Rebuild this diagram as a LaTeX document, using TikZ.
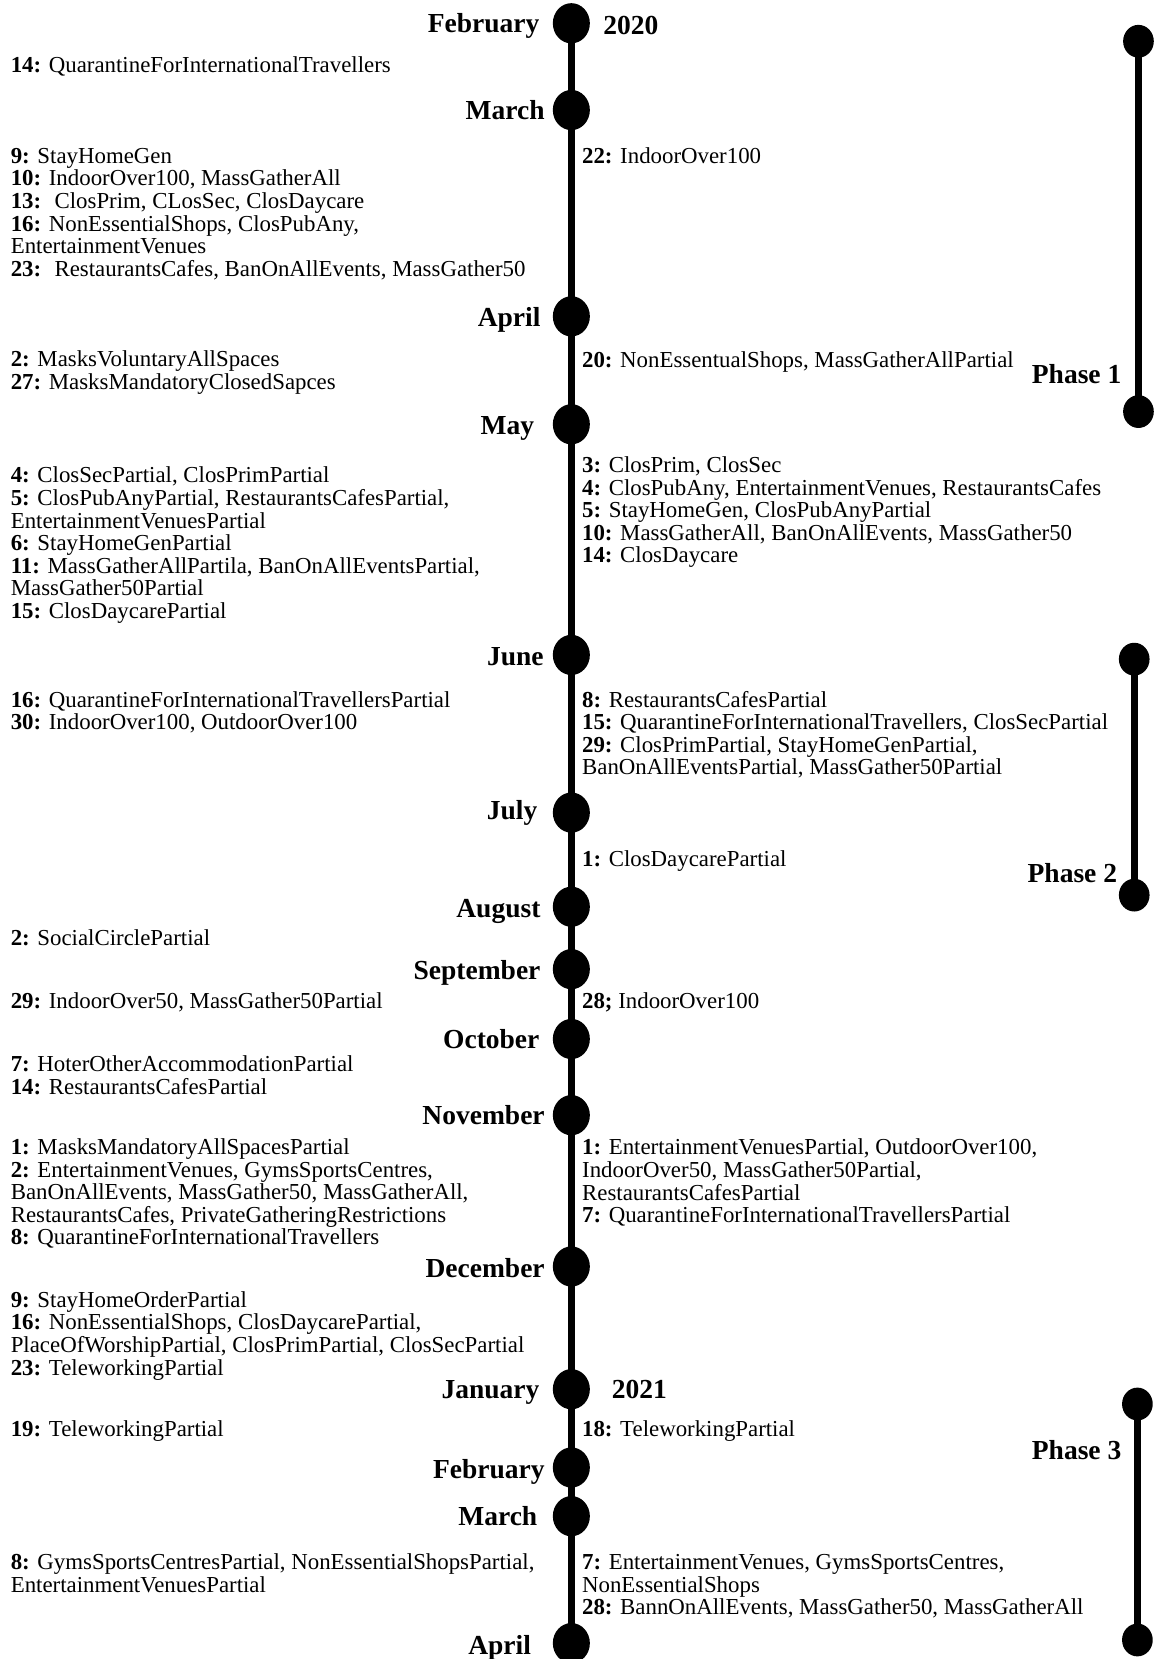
\documentclass[tikz,border=0pt]{standalone}
\usepackage{fontspec}
\setmainfont{Liberation Serif}
\usetikzlibrary{shapes.geometric}

\newcommand\dn[1]{\textbf{#1:}}
\newcommand\blk[1]{\begin{tabular}[t]{@{}l@{}}#1\end{tabular}}

\tikzset{
  monthdot/.style={ellipse, fill=black, inner sep=0pt, minimum width=35pt, minimum height=38pt},
  phasedot/.style={ellipse, fill=black, inner sep=0pt, minimum width=29pt, minimum height=31pt},
  spine/.style={line width=7pt},
  monthlbl/.style={anchor=base east, inner sep=0pt, font=\fontsize{26}{28}\selectfont\bfseries},
  yearlbl/.style={anchor=base west, inner sep=0pt, font=\fontsize{26}{28}\selectfont\bfseries},
  phaselbl/.style={anchor=base east, inner sep=0pt, font=\fontsize{26}{28}\selectfont\bfseries},
  lefttxt/.style={anchor=base west, inner sep=0pt, font=\fontsize{21.6}{21}\selectfont},
  righttxt/.style={anchor=base west, inner sep=0pt, font=\fontsize{21.6}{21}\selectfont},
}

\begin{document}
\begin{tikzpicture}[x=1pt,y=1pt]
\useasboundingbox (0,0) rectangle (1096,-1568);

% month markers on the main time line
\foreach \n/\yy in {0/22,1/104,2/299,3/401,4/619,5/768,6/857,7/916,8/982,9/1054,10/1197,11/1313,12/1387,13/1433,14/1553}
  \node[monthdot] (m\n) at (540,-\yy) {};
\draw[spine] (m0.center) -- (m14.center);

% month names
\node[monthlbl] (l0)  at (510,-31)   {February};
\node[monthlbl] (l1)  at (515,-113)  {March};
\node[monthlbl] (l2)  at (511,-309)  {April};
\node[monthlbl] (l3)  at (505,-411)  {May};
\node[monthlbl] (l4)  at (514,-629)  {June};
\node[monthlbl] (l5)  at (508,-775)  {July};
\node[monthlbl] (l6)  at (511,-867)  {August};
\node[monthlbl] (l7)  at (511,-926)  {September};
\node[monthlbl] (l8)  at (510,-991)  {October};
\node[monthlbl] (l9)  at (515,-1063) {November};
\node[monthlbl] (l10) at (515,-1207) {December};
\node[monthlbl] (l11) at (510,-1322) {January};
\node[monthlbl] (l12) at (515,-1397) {February};
\node[monthlbl] (l13) at (508,-1442) {March};
\node[monthlbl] (l14) at (502,-1564) {April};

% years
\node[yearlbl] (y2020) at (570,-33)   {2020};
\node[yearlbl] (y2021) at (578,-1322) {2021};

% measures, left column
\node[lefttxt] (a1)  at (10,-68.5)  {\blk{\dn{14} QuarantineForInternationalTravellers}};
\node[lefttxt] (a2)  at (10,-154.5) {\blk{\dn{9} StayHomeGen\\ \dn{10} IndoorOver100, MassGatherAll\\ \dn{13}~ ClosPrim, CLosSec, ClosDaycare\\ \dn{16} NonEssentialShops, ClosPubAny,\\ EntertainmentVenues\\ \dn{23}~ RestaurantsCafes, BanOnAllEvents, MassGather50}};
\node[lefttxt] (a3)  at (10,-346.5) {\blk{\dn{2} MasksVoluntaryAllSpaces\\ \dn{27} MasksMandatoryClosedSapces}};
\node[lefttxt] (a4)  at (10,-456.5) {\blk{\dn{4} ClosSecPartial, ClosPrimPartial\\ \dn{5} ClosPubAnyPartial, RestaurantsCafesPartial,\\ EntertainmentVenuesPartial\\ \dn{6} StayHomeGenPartial\\ \dn{11} MassGatherAllPartila, BanOnAllEventsPartial,\\ MassGather50Partial\\ \dn{15} ClosDaycarePartial}};
\node[lefttxt] (a5)  at (10,-668.5) {\blk{\dn{16} QuarantineForInternationalTravellersPartial\\ \dn{30} IndoorOver100, OutdoorOver100}};
\node[lefttxt] (a6)  at (10,-893.5) {\blk{\dn{2} SocialCirclePartial}};
\node[lefttxt] (a7)  at (10,-953.5) {\blk{\dn{29} IndoorOver50, MassGather50Partial}};
\node[lefttxt] (a8)  at (10,-1012.5) {\blk{\dn{7} HoterOtherAccommodationPartial\\ \dn{14} RestaurantsCafesPartial}};
\node[lefttxt] (a9)  at (10,-1091.5) {\blk{\dn{1} MasksMandatoryAllSpacesPartial\\ \dn{2} EntertainmentVenues, GymsSportsCentres,\\ BanOnAllEvents, MassGather50, MassGatherAll,\\ RestaurantsCafes, PrivateGatheringRestrictions\\ \dn{8} QuarantineForInternationalTravellers}};
\node[lefttxt] (a10) at (10,-1235.5) {\blk{\dn{9} StayHomeOrderPartial\\ \dn{16} NonEssentialShops, ClosDaycarePartial,\\ PlaceOfWorshipPartial, ClosPrimPartial, ClosSecPartial\\ \dn{23} TeleworkingPartial}};
\node[lefttxt] (a11) at (10,-1357.5) {\blk{\dn{19} TeleworkingPartial}};
\node[lefttxt] (a12) at (10,-1483.5) {\blk{\dn{8} GymsSportsCentresPartial, NonEssentialShopsPartial,\\ EntertainmentVenuesPartial}};

% measures, right column
\node[righttxt] (b1) at (550,-154.5) {\blk{\dn{22} IndoorOver100}};
\node[righttxt] (b2) at (550,-347.5) {\blk{\dn{20} NonEssentualShops, MassGatherAllPartial}};
\node[righttxt] (b3) at (550,-446.5) {\blk{\dn{3} ClosPrim, ClosSec\\ \dn{4} ClosPubAny, EntertainmentVenues, RestaurantsCafes\\ \dn{5} StayHomeGen, ClosPubAnyPartial\\ \dn{10} MassGatherAll, BanOnAllEvents, MassGather50\\ \dn{14} ClosDaycare}};
\node[righttxt] (b4) at (550,-668.5) {\blk{\dn{8} RestaurantsCafesPartial\\ \dn{15} QuarantineForInternationalTravellers, ClosSecPartial\\ \dn{29} ClosPrimPartial, StayHomeGenPartial,\\ BanOnAllEventsPartial, MassGather50Partial}};
\node[righttxt] (b5) at (550,-818.5) {\blk{\dn{1} ClosDaycarePartial}};
\node[righttxt] (b6) at (550,-953.5) {\blk{\textbf{28;} IndoorOver100}};
\node[righttxt] (b7) at (550,-1091.5) {\blk{\dn{1} EntertainmentVenuesPartial, OutdoorOver100,\\ IndoorOver50, MassGather50Partial,\\ RestaurantsCafesPartial\\ \dn{7} QuarantineForInternationalTravellersPartial}};
\node[righttxt] (b8) at (550,-1357.5) {\blk{\dn{18} TeleworkingPartial}};
\node[righttxt] (b9) at (550,-1483.5) {\blk{\dn{7} EntertainmentVenues, GymsSportsCentres,\\ NonEssentialShops\\ \dn{28} BannOnAllEvents, MassGather50, MassGatherAll}};

% phase bars
\node[phasedot] (p1s) at (1076,-39)   {};
\node[phasedot] (p1e) at (1076,-389)  {};
\draw[spine] (p1s.center) -- (p1e.center);
\node[phaselbl] (p1) at (1060,-362) {Phase 1};

\node[phasedot] (p2s) at (1072,-623)  {};
\node[phasedot] (p2e) at (1072,-846)  {};
\draw[spine] (p2s.center) -- (p2e.center);
\node[phaselbl] (p2) at (1056,-834) {Phase 2};

\node[phasedot] (p3s) at (1075,-1327) {};
\node[phasedot] (p3e) at (1075,-1550) {};
\draw[spine] (p3s.center) -- (p3e.center);
\node[phaselbl] (p3) at (1060,-1379) {Phase 3};
\end{tikzpicture}
\end{document}
